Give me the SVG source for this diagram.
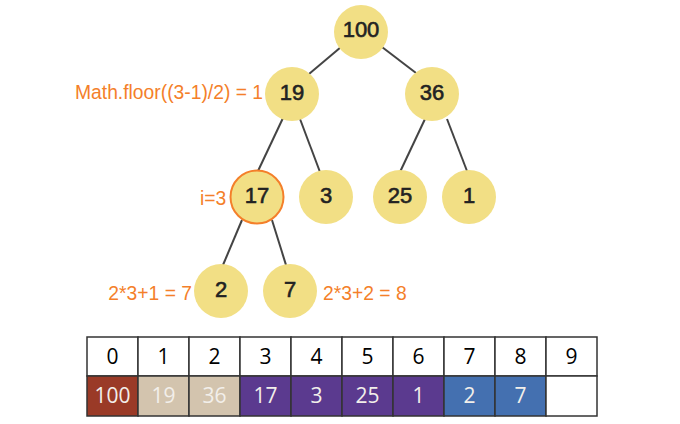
<svg xmlns="http://www.w3.org/2000/svg" width="680" height="424" viewBox="0 0 680 424">
<style>
.node circle{fill:#F2DF85}
.node text{font-family:"Liberation Sans",Arial,sans-serif;font-size:22px;fill:#222;stroke:#222;stroke-width:0.6;text-anchor:middle}
.edge{stroke:#444;stroke-width:2;fill:none}
.lbl{font-family:"Liberation Sans",Arial,sans-serif;font-size:19.3px;fill:#F47F2A}
.cell{stroke:#333;stroke-width:1.5}
.hd{font-family:"Open Sans","Liberation Sans",sans-serif;font-size:21px;fill:#000;text-anchor:middle}
.vl{font-family:"Open Sans","Liberation Sans",sans-serif;font-size:21px;fill:#F2EFEA;text-anchor:middle}
</style>
<rect width="680" height="424" fill="#fff"/>
<g id="connectors">
<line class="edge" x1="341" y1="47" x2="309" y2="74"/>
<line class="edge" x1="382" y1="47" x2="416" y2="73"/>
<line class="edge" x1="283" y1="118" x2="258" y2="171"/>
<line class="edge" x1="300" y1="119" x2="320" y2="172"/>
<line class="edge" x1="425" y1="119" x2="400" y2="172"/>
<line class="edge" x1="447" y1="119" x2="467" y2="171"/>
<line class="edge" x1="242" y1="220" x2="223" y2="265"/>
<line class="edge" x1="272" y1="220" x2="286" y2="265"/>
</g>
<g id="n100" class="node"><circle cx="361" cy="32" r="27"/><text x="361" y="37">100</text></g>
<g id="n19" class="node"><circle cx="292" cy="94" r="27"/><text x="292" y="100">19</text></g>
<g id="n36" class="node"><circle cx="432" cy="94" r="27"/><text x="432" y="100">36</text></g>
<g id="n17" class="node"><circle cx="257" cy="197" r="26.5" stroke="#F47F2A" stroke-width="2"/><text x="257" y="203">17</text></g>
<g id="n3" class="node"><circle cx="326" cy="197" r="27"/><text x="326" y="203">3</text></g>
<g id="n25" class="node"><circle cx="400" cy="197" r="27"/><text x="400" y="203">25</text></g>
<g id="n1" class="node"><circle cx="469" cy="197" r="27"/><text x="469" y="203">1</text></g>
<g id="n2" class="node"><circle cx="221" cy="291" r="27"/><text x="221" y="297">2</text></g>
<g id="n7" class="node"><circle cx="290" cy="291" r="27"/><text x="290" y="297">7</text></g>
<g id="labels">
<text class="lbl" x="75" y="99">Math.floor((3-1)/2) = 1</text>
<text class="lbl" x="200" y="205">i=3</text>
<text class="lbl" x="192" y="300" text-anchor="end">2*3+1 = 7</text>
<text class="lbl" x="323" y="300">2*3+2 = 8</text>
</g>
<g id="array">
<rect class="cell" x="87" y="337" width="51" height="39" fill="#fff"/>
<rect class="cell" x="138" y="337" width="51" height="39" fill="#fff"/>
<rect class="cell" x="189" y="337" width="51" height="39" fill="#fff"/>
<rect class="cell" x="240" y="337" width="51" height="39" fill="#fff"/>
<rect class="cell" x="291" y="337" width="51" height="39" fill="#fff"/>
<rect class="cell" x="342" y="337" width="51" height="39" fill="#fff"/>
<rect class="cell" x="393" y="337" width="51" height="39" fill="#fff"/>
<rect class="cell" x="444" y="337" width="51" height="39" fill="#fff"/>
<rect class="cell" x="495" y="337" width="51" height="39" fill="#fff"/>
<rect class="cell" x="546" y="337" width="51" height="39" fill="#fff"/>
<rect class="cell" x="87" y="376" width="51" height="40" fill="#9A3A27"/>
<rect class="cell" x="138" y="376" width="51" height="40" fill="#D3C4AE"/>
<rect class="cell" x="189" y="376" width="51" height="40" fill="#D3C4AE"/>
<rect class="cell" x="240" y="376" width="51" height="40" fill="#5B3A8F"/>
<rect class="cell" x="291" y="376" width="51" height="40" fill="#5B3A8F"/>
<rect class="cell" x="342" y="376" width="51" height="40" fill="#5B3A8F"/>
<rect class="cell" x="393" y="376" width="51" height="40" fill="#5B3A8F"/>
<rect class="cell" x="444" y="376" width="51" height="40" fill="#4470B0"/>
<rect class="cell" x="495" y="376" width="51" height="40" fill="#4470B0"/>
<rect class="cell" x="546" y="376" width="51" height="40" fill="#fff"/>
<text class="hd" x="112.5" y="364">0</text>
<text class="hd" x="163.5" y="364">1</text>
<text class="hd" x="214.5" y="364">2</text>
<text class="hd" x="265.5" y="364">3</text>
<text class="hd" x="316.5" y="364">4</text>
<text class="hd" x="367.5" y="364">5</text>
<text class="hd" x="418.5" y="364">6</text>
<text class="hd" x="469.5" y="364">7</text>
<text class="hd" x="520.5" y="364">8</text>
<text class="hd" x="571.5" y="364">9</text>
<text class="vl" x="112.5" y="403">100</text>
<text class="vl" x="163.5" y="403">19</text>
<text class="vl" x="214.5" y="403">36</text>
<text class="vl" x="265.5" y="403">17</text>
<text class="vl" x="316.5" y="403">3</text>
<text class="vl" x="367.5" y="403">25</text>
<text class="vl" x="418.5" y="403">1</text>
<text class="vl" x="469.5" y="403">2</text>
<text class="vl" x="520.5" y="403">7</text>
</g>
</svg>
